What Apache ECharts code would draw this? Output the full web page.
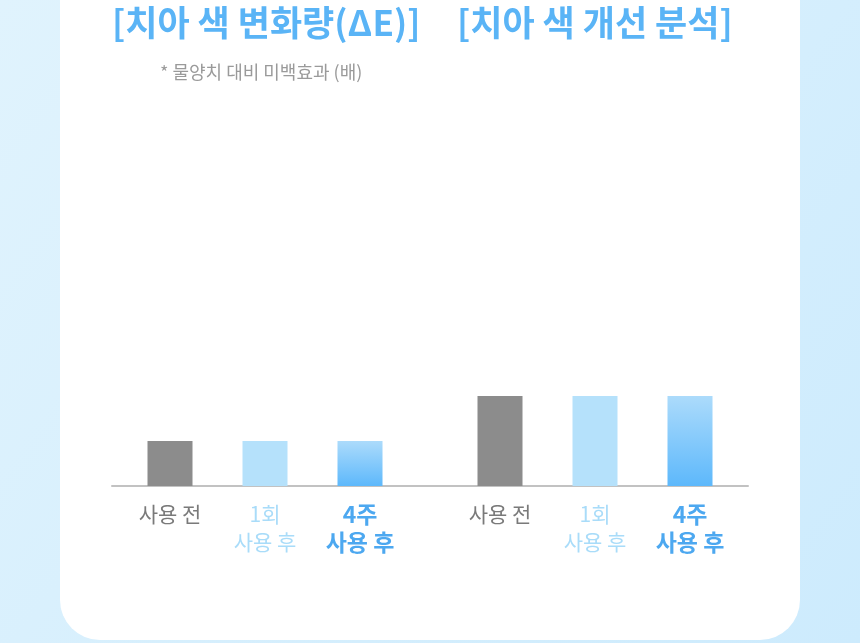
<!DOCTYPE html>
<html>
<head>
<meta charset="utf-8">
<script src="https://cdn.jsdelivr.net/npm/echarts@6/dist/echarts.min.js"></script>
<style>html,body{margin:0;padding:0;}#c{width:860px;height:643px;}</style>
</head>
<body>
<div id="c"></div>
<script>
// ---- data ----
const titleLeft = '[치아 색 변화량(ΔE)]';
const titleRight = '[치아 색 개선 분석]';
const subtitle = '* 물양치 대비 미백효과 (배)';
const categories = ['사용 전', '1회\n사용 후', '4주\n사용 후'];
const labelStyles = ['g', 'l', 'b'];
const changeValues = [1, 1, 1];       // 치아 색 변화량
const improveValues = [2, 2, 2];      // 치아 색 개선 분석
const barColors = ['gray', 'light', 'grad'];

const chart = echarts.init(document.getElementById('c'));
const FONT = '"Noto Sans CJK KR", "Noto Sans", sans-serif';

function colorFor(k) {
  if (k === 'gray') return '#8c8c8c';
  if (k === 'light') return '#b5e1fb';
  return new echarts.graphic.LinearGradient(0, 0, 0, 1, [
    { offset: 0, color: '#acdbfb' },
    { offset: 1, color: '#5db8fb' }
  ]);
}
function mkData(vals) {
  return vals.map((v, i) => ({ value: v, itemStyle: { color: colorFor(barColors[i]) } }));
}
const axisLabel = {
  margin: 14,
  interval: 0,
  formatter: function (value, index) {
    const st = labelStyles[index];
    return value.split('\n').map(s => '{' + st + '|' + s + '}').join('\n');
  },
  rich: {
    g: { color: '#7a7a7a', fontSize: 21, fontFamily: FONT, lineHeight: 28 },
    l: { color: '#a9dcf9', fontSize: 21, fontFamily: FONT, lineHeight: 28 },
    b: { color: '#4da8f0', fontSize: 23, fontWeight: 'bold', fontFamily: FONT, lineHeight: 28 }
  }
};
const gridBottom = 157, gridHeight = 225;

chart.setOption({
  animation: false,
  backgroundColor: new echarts.graphic.LinearGradient(0, 0, 1, 1, [
    { offset: 0, color: '#e0f3fd' },
    { offset: 1, color: '#cdebfd' }
  ]),
  graphic: [{
    type: 'rect', z: -10, silent: true,
    shape: { x: 60, y: -60, width: 740, height: 700, r: 40 },
    style: { fill: '#ffffff' }
  }],
  title: [
    { text: titleLeft, left: 112, top: 5, padding: 0,
      textStyle: { color: '#5ab4f6', fontSize: 35, fontWeight: 'bold', fontFamily: FONT } },
    { text: titleRight, left: 457, top: 5, padding: 0,
      textStyle: { color: '#5ab4f6', fontSize: 35, fontWeight: 'bold', fontFamily: FONT } },
    { text: subtitle, left: 160, top: 63, padding: 0,
      textStyle: { color: '#9a9a9a', fontSize: 18, fontWeight: 'normal', fontFamily: FONT } }
  ],
  grid: [
    { left: 122.5, width: 285, bottom: gridBottom, height: gridHeight },
    { left: 452.5, width: 285, bottom: gridBottom, height: gridHeight },
    { left: 112, right: 112, bottom: gridBottom, height: gridHeight }
  ],
  xAxis: [
    { type: 'category', gridIndex: 0, data: categories, axisLine: { show: false }, axisTick: { show: false }, axisLabel: axisLabel },
    { type: 'category', gridIndex: 1, data: categories, axisLine: { show: false }, axisTick: { show: false }, axisLabel: axisLabel },
    { type: 'value', gridIndex: 2, min: 0, max: 1, axisLine: { show: true, lineStyle: { color: '#c2c2c2', width: 2 } },
      axisTick: { show: false }, axisLabel: { show: false }, splitLine: { show: false } }
  ],
  yAxis: [
    { type: 'value', gridIndex: 0, min: 0, max: 5, show: false },
    { type: 'value', gridIndex: 1, min: 0, max: 5, show: false },
    { type: 'value', gridIndex: 2, min: 0, max: 5, show: false }
  ],
  series: [
    { type: 'bar', xAxisIndex: 0, yAxisIndex: 0, barWidth: 45, data: mkData(changeValues) },
    { type: 'bar', xAxisIndex: 1, yAxisIndex: 1, barWidth: 45, data: mkData(improveValues) }
  ]
});
</script>
</body>
</html>
